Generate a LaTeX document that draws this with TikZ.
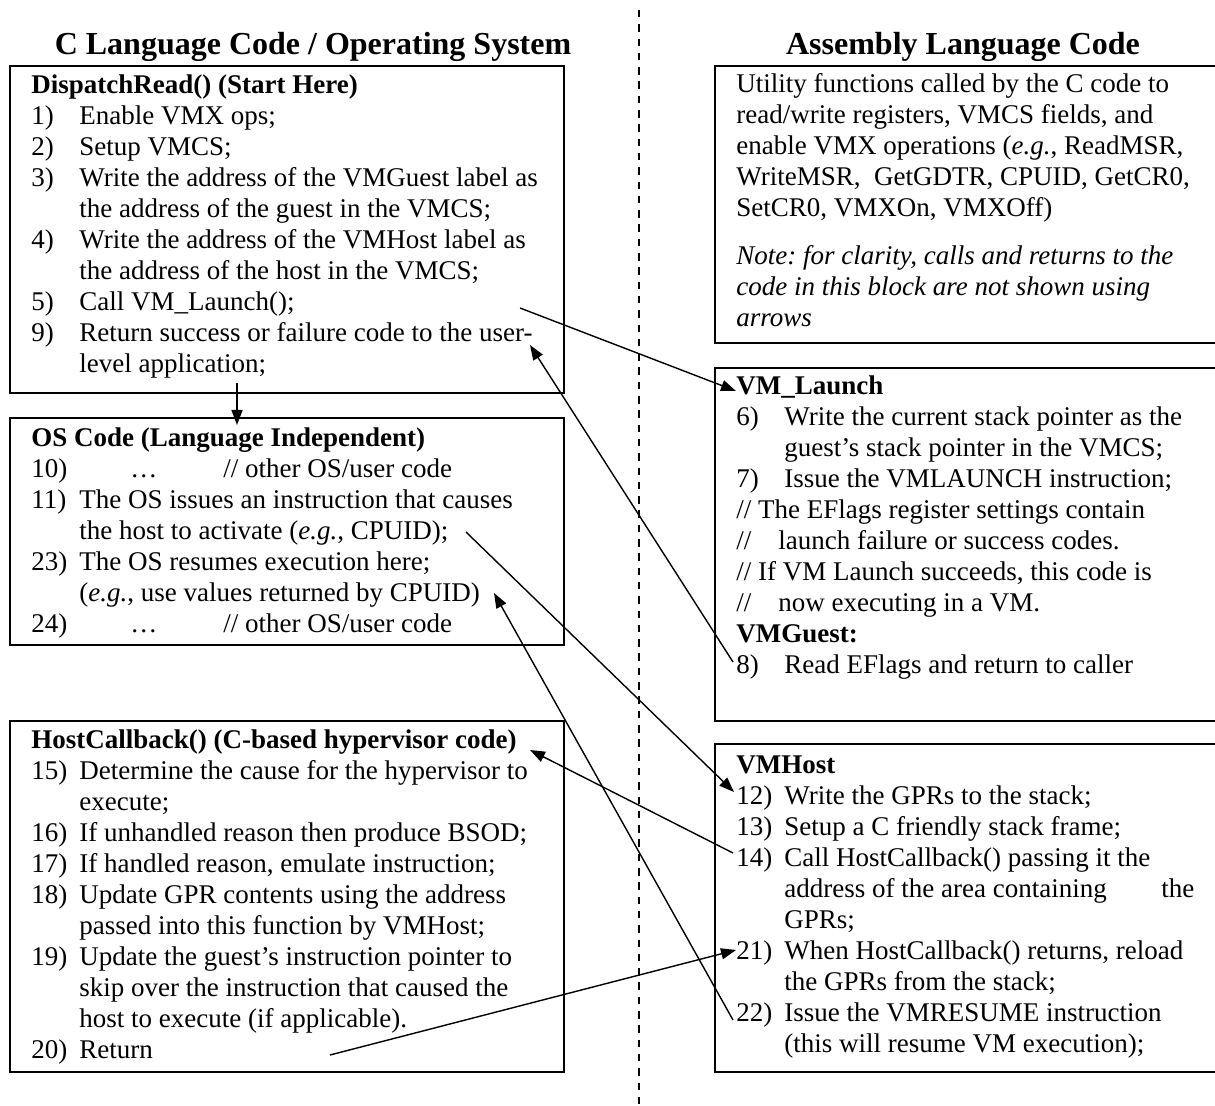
\documentclass[tikz,border=0pt]{standalone}
\usepackage{fontspec}
\setmainfont{Liberation Serif}
\usetikzlibrary{arrows.meta}
\frenchspacing
\newcommand{\bodyfont}{\fontsize{13.5pt}{15.5pt}\selectfont}
\newcommand{\nm}[1]{\makebox[24pt][l]{#1}}
\newcommand{\ct}{\hspace*{24pt}}
\begin{document}
\begin{tikzpicture}[x=0.5pt,y=-0.5pt,
  boxline/.style={line width=1pt},
  conn/.style={line width=0.7pt,-{Triangle[length=7.5pt,width=5.5pt]}},
  txt/.style={anchor=base west,inner sep=0pt,font=\bodyfont},
  ttl/.style={anchor=base,inner sep=0pt,font=\fontsize{16pt}{18pt}\selectfont\bfseries}]
\useasboundingbox (0,0) rectangle (1215,1106);

% divider
\draw[line width=1pt,dash pattern=on 3.75pt off 3.4pt] (639,10) -- (639,1106);

% titles
\node[ttl] (tleft) at (313,55) {C Language Code / Operating System};
\node[ttl] (tright) at (963,55) {Assembly Language Code};

% boxes
\draw[boxline] (10,66) rectangle (564,393);
\draw[boxline] (10,418) rectangle (564,645);
\draw[boxline] (10,721) rectangle (564,1072);
\draw[boxline] (1217,66) -- (715,66) -- (715,343) -- (1217,343);
\draw[boxline] (1217,368) -- (715,368) -- (715,721) -- (1217,721);
\draw[boxline] (1217,744) -- (715,744) -- (715,1072) -- (1217,1072);

% box texts
\node[txt] (dispatch) at (31,94) {\parbox[t]{300pt}{\raggedright
\textbf{DispatchRead() (Start Here)}\\
\nm{1)}Enable VMX ops;\\
\nm{2)}Setup VMCS;\\
\nm{3)}Write the address of the VMGuest label as\\
\ct the address of the guest in the VMCS;\\
\nm{4)}Write the address of the VMHost label as\\
\ct the address of the host in the VMCS;\\
\nm{5)}Call VM\_Launch();\\
\nm{9)}Return success or failure code to the user-\\
\ct level application;}};

\node[txt] (oscode) at (31,447) {\parbox[t]{300pt}{\raggedright
\textbf{OS Code (Language Independent)}\\
\makebox[49.5pt][l]{10)}\makebox[46.5pt][l]{…}// other OS/user code\\
\nm{11)}The OS issues an instruction that causes\\
\ct the host to activate (\textit{e.g.}, CPUID);\\
\nm{23)}The OS resumes execution here;\\
\ct (\textit{e.g.}, use values returned by CPUID)\\
\makebox[49.5pt][l]{24)}\makebox[46.5pt][l]{…}// other OS/user code}};

\node[txt] (hostcb) at (31,748) {\parbox[t]{300pt}{\raggedright
\textbf{HostCallback() (C-based hypervisor code)}\\
\nm{15)}Determine the cause for the hypervisor to\\
\ct execute;\\
\nm{16)}If unhandled reason then produce BSOD;\\
\nm{17)}If handled reason, emulate instruction;\\
\nm{18)}Update GPR contents using the address\\
\ct passed into this function by VMHost;\\
\nm{19)}Update the guest’s instruction pointer to\\
\ct skip over the instruction that caused the\\
\ct host to execute (if applicable).\\
\nm{20)}Return}};

\node[txt] (utility) at (736,93) {\parbox[t]{300pt}{\raggedright
Utility functions called by the C code to\\
read/write registers, VMCS fields, and\\
enable VMX operations (\textit{e.g.}, ReadMSR,\\
WriteMSR,\ \ GetGDTR, CPUID, GetCR0,\\
SetCR0, VMXOn, VMXOff)\\[8.5pt]
\textit{Note: for clarity, calls and returns to the}\\
\textit{code in this block are not shown using}\\
\textit{arrows}}};

\node[txt] (vmlaunch) at (736,395) {\parbox[t]{300pt}{\raggedright
\textbf{VM\_Launch}\\
\nm{6)}Write the current stack pointer as the\\
\ct guest’s stack pointer in the VMCS;\\
\nm{7)}Issue the VMLAUNCH instruction;\\
// The EFlags register settings contain\\
\makebox[21pt][l]{//}launch failure or success codes.\\
// If VM Launch succeeds, this code is\\
\makebox[21pt][l]{//}now executing in a VM.\\
\textbf{VMGuest:}\\
\nm{8)}Read EFlags and return to caller}};

\node[txt] (vmhost) at (736,773) {\parbox[t]{300pt}{\raggedright
\textbf{VMHost}\\
\nm{12)}Write the GPRs to the stack;\\
\nm{13)}Setup a C friendly stack frame;\\
\nm{14)}Call HostCallback() passing it the\\
\ct\makebox[188.5pt][l]{address of the area containing}the\\
\ct GPRs;\\
\nm{21)}When HostCallback() returns, reload\\
\ct the GPRs from the stack;\\
\nm{22)}Issue the VMRESUME instruction\\
\ct (this will resume VM execution);}};

% connector end points
\coordinate (s0) at (237,383);  \coordinate (e0) at (237,425);
\coordinate (s1) at (520,308);  \coordinate (e1) at (736,391);
\coordinate (s2) at (733,662);  \coordinate (e2) at (530,345);
\coordinate (s3) at (466,532);  \coordinate (e3) at (734,792);
\coordinate (s4) at (733,853);  \coordinate (e4) at (530,750);
\coordinate (s5) at (330,1055); \coordinate (e5) at (736,950);
\coordinate (s6) at (733,1020); \coordinate (e6) at (494,593);

\draw[conn] (s0) -- (e0);
\draw[conn] (s1) -- (e1);
\draw[conn] (s2) -- (e2);
\draw[conn] (s3) -- (e3);
\draw[conn] (s4) -- (e4);
\draw[conn] (s5) -- (e5);
\draw[conn] (s6) -- (e6);
\end{tikzpicture}
\end{document}
